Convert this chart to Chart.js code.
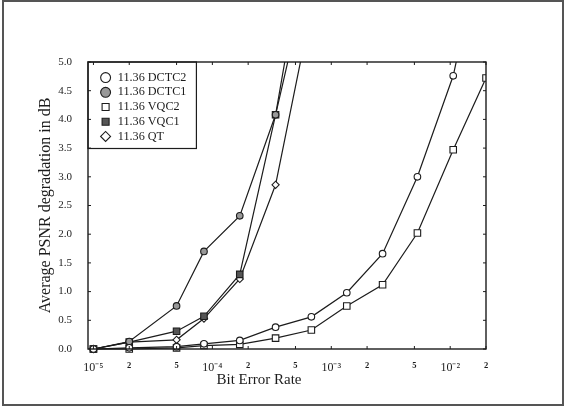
<!DOCTYPE html>
<html>
<head>
<meta charset="utf-8">
<script src="https://cdn.jsdelivr.net/npm/chart.js@4.4.1/dist/chart.umd.min.js"></script>
<style>
  html, body { margin: 0; padding: 0; background: #fff; }
  #wrap { position: relative; width: 566px; height: 410px; }
  #frame { position: absolute; left: 2px; top: 0; width: 562px; height: 406px; border: 2px solid #555; box-sizing: border-box; pointer-events: none; }
</style>
</head>
<body>
<div id="wrap">
  <canvas id="myChart" width="566" height="410"></canvas>
  <div id="frame"></div>
</div>
<script>
// bit error rates of the measured points
const berSteep = [1e-5, 2e-5, 5e-5, 8.5e-5, 1.7e-4, 3.4e-4, 6.8e-4];
const berWide = [1e-5, 2e-5, 5e-5, 8.5e-5, 1.7e-4, 3.4e-4, 6.8e-4, 1.35e-3, 2.7e-3, 5.3e-3, 1.06e-2, 2e-2];

// average PSNR degradation in dB
const dctc2 = [0, 0.02, 0.04, 0.09, 0.15, 0.38, 0.56, 0.98, 1.66, 3.0, 4.76, 7.4];
const dctc1 = [0, 0.13, 0.75, 1.7, 2.32, 4.08, 7.67];
const vqc2 = [0, 0.0, 0.02, 0.06, 0.08, 0.19, 0.33, 0.75, 1.12, 2.02, 3.47, 4.72];
const vqc1 = [0, 0.12, 0.31, 0.57, 1.3, 4.08, 6.78];
const qt = [0, 0.12, 0.16, 0.53, 1.22, 2.86, 5.94];

const seriesNames = ['11.36 DCTC2', '11.36 DCTC1', '11.36 VQC2', '11.36 VQC1', '11.36 QT'];

const xTickValues = [1e-5, 2e-5, 5e-5, 1e-4, 2e-4, 5e-4, 1e-3, 2e-3, 5e-3, 1e-2, 2e-2];
const xTickLabels = ['10⁻⁵', '2', '5', '10⁻⁴', '2', '5', '10⁻³', '2', '5', '10⁻²', '2'];

const serif = 'Liberation Serif';
const ink = '#1c1c1c';

function pts(xs, ys) {
    return ys.map((y, i) => ({ x: xs[i], y: y }));
}

function series(label, xs, ys, style, fill, radius) {
    return {
        label: label,
        data: pts(xs, ys),
        borderColor: ink,
        borderWidth: 1.2,
        pointStyle: style,
        pointBackgroundColor: fill,
        pointBorderColor: ink,
        pointBorderWidth: 1.1,
        pointRadius: radius,
        tension: 0,
        clip: { left: 6, top: 0, right: 0, bottom: 6 }
    };
}

function isDecade(v) {
    const e = Math.log10(v);
    return Math.abs(e - Math.round(e)) < 1e-6;
}

// box around the legend + plot border with inward ticks
const frames = {
    id: 'frames',
    afterLayout(chart) {
        const a = chart.chartArea;
        const lg = chart.legend;
        lg.left = a.left + 9;
        lg.top = a.top + 7;
        lg.bottom = a.bottom;
    },
    afterDraw(chart) {
        const ctx = chart.ctx;
        const a = chart.chartArea;
        const hb = chart.legend.legendHitBoxes;
        ctx.save();
        ctx.strokeStyle = ink;
        ctx.lineWidth = 1.2;
        const right = Math.max(...hb.map(b => b.left + b.width)) + 10;
        const last = hb[hb.length - 1];
        ctx.strokeRect(a.left, a.top, right - a.left, last.top + last.height + 6 - a.top);
        ctx.lineWidth = 1.4;
        ctx.strokeRect(a.left, a.top, a.right - a.left, a.bottom - a.top);
        ctx.lineWidth = 1;
        ctx.beginPath();
        const ys = chart.scales.y;
        ys.ticks.forEach(t => {
            const p = ys.getPixelForValue(t.value);
            ctx.moveTo(a.left, p); ctx.lineTo(a.left + 3, p);
            ctx.moveTo(a.right, p); ctx.lineTo(a.right - 3, p);
        });
        const xs = chart.scales.x;
        xs.ticks.forEach(t => {
            const p = xs.getPixelForValue(t.value);
            ctx.moveTo(p, a.bottom); ctx.lineTo(p, a.bottom - 3);
            ctx.moveTo(p, a.top); ctx.lineTo(p, a.top + 3);
        });
        ctx.stroke();
        ctx.restore();
    }
};

const ctx = document.getElementById('myChart').getContext('2d');
new Chart(ctx, {
    type: 'line',
    data: {
        datasets: [
            series(seriesNames[0], berWide, dctc2, 'circle', '#fff', 3.3),
            series(seriesNames[1], berSteep, dctc1, 'circle', '#999', 3.3),
            series(seriesNames[2], berWide, vqc2, 'rect', '#fff', 4.6),
            series(seriesNames[3], berSteep, vqc1, 'rect', '#555', 4.6),
            series(seriesNames[4], berSteep, qt, 'rectRot', '#fff', 3.6)
        ]
    },
    options: {
        responsive: false,
        animation: false,
        layout: { padding: { left: 32, top: 62, right: 80, bottom: 21 } },
        scales: {
            x: {
                type: 'logarithmic',
                min: 9e-6,
                max: 2e-2,
                grid: { display: false },
                border: { display: false },
                afterBuildTicks: scale => {
                    scale.ticks = xTickValues.map(v => ({ value: v }));
                },
                afterFit: scale => { scale.height = 22; },
                ticks: {
                    autoSkip: false,
                    maxRotation: 0,
                    padding: 4,
                    color: ink,
                    callback: (value, index) => xTickLabels[index],
                    font: c => {
                        const major = c.tick && isDecade(c.tick.value);
                        return { family: serif, size: major ? 12 : 8.5, weight: major ? 'normal' : 'bold' };
                    }
                }
            },
            y: {
                min: 0,
                max: 5,
                grid: { display: false },
                border: { display: false },
                afterFit: scale => { scale.width = 56; },
                ticks: {
                    stepSize: 0.5,
                    padding: 8,
                    color: ink,
                    font: { family: serif, size: 11 },
                    callback: v => v.toFixed(1)
                },
                title: {
                    display: true,
                    text: 'Average PSNR degradation in dB',
                    color: ink,
                    font: { family: serif, size: 16 },
                    padding: { top: 4, bottom: 4 }
                }
            }
        },
        plugins: {
            legend: {
                position: 'chartArea',
                align: 'start',
                labels: {
                    usePointStyle: true,
                    boxHeight: 7,
                    padding: 2.5,
                    color: ink,
                    font: { family: serif, size: 12.2 }
                }
            },
            title: {
                display: true,
                position: 'bottom',
                text: 'Bit Error Rate',
                color: ink,
                padding: 0,
                font: { family: serif, size: 15, weight: 'normal' }
            },
            tooltip: { enabled: false }
        }
    },
    plugins: [frames]
});
</script>
</body>
</html>
